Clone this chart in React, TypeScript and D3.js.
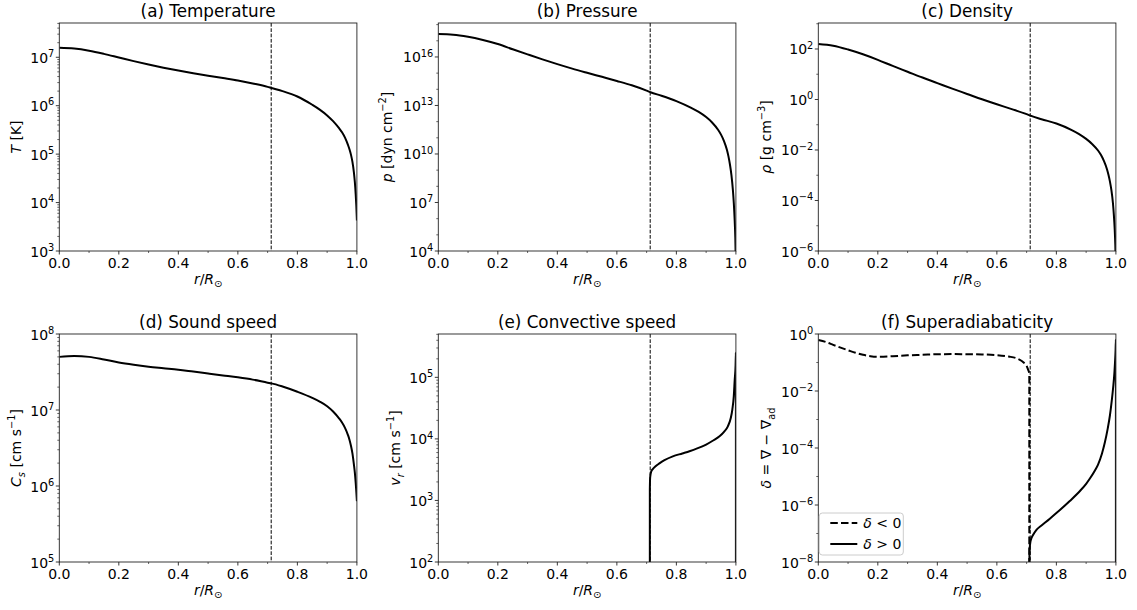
import React from "react";
import * as d3 from "d3";

const FONT = "'DejaVu Sans', sans-serif";

// ---------------- data ----------------
const radius = [0, 0.05, 0.1, 0.15, 0.2, 0.25, 0.3, 0.35, 0.4, 0.45, 0.5, 0.55, 0.6, 0.65, 0.7, 0.713, 0.75, 0.8, 0.85, 0.875, 0.9, 0.92, 0.94, 0.95, 0.96, 0.97, 0.975, 0.98, 0.985, 0.99, 0.993, 0.996, 0.998, 1.0];
const temperature = [1.574e7, 1.514e7, 1.365e7, 1.175e7, 9.89e6, 8.32e6, 7.08e6, 6.10e6, 5.31e6, 4.68e6, 4.17e6, 3.72e6, 3.31e6, 2.88e6, 2.45e6, 2.32e6, 2.0e6, 1.55e6, 1.047e6, 8.32e5, 6.31e5, 4.79e5, 3.43e5, 2.82e5, 2.19e5, 1.55e5, 1.26e5, 9.77e4, 6.92e4, 4.17e4, 2.69e4, 1.48e4, 8.7e3, 4.27e3];
const pressure = [2.6e17, 2.4e17, 1.78e17, 1.12e17, 6.3e16, 3.0e16, 1.45e16, 7.1e15, 3.6e15, 1.9e15, 1.05e15, 5.9e14, 3.3e14, 1.78e14, 8.3e13, 6.6e13, 4.0e13, 1.86e13, 7.08e12, 3.98e12, 1.91e12, 8.9e11, 3.16e11, 1.58e11, 6.3e10, 1.78e10, 7.1e9, 2.24e9, 5.0e8, 5.6e7, 8.9e6, 7.1e5, 7.1e4, 1.0e3];
const density = [158, 135, 95.5, 61.7, 37.2, 21.4, 12.6, 7.4, 4.47, 2.69, 1.66, 1.02, 0.646, 0.417, 0.263, 0.229, 0.166, 0.112, 0.0631, 0.0437, 0.0275, 0.0174, 9.55e-3, 6.31e-3, 3.63e-3, 1.74e-3, 1.05e-3, 5.62e-4, 2.51e-4, 7.94e-5, 2.82e-5, 7.08e-6, 1.78e-6, 1.58e-7];
const soundSpeed = [5.0e7, 5.13e7, 5.0e7, 4.62e7, 4.22e7, 3.94e7, 3.72e7, 3.55e7, 3.39e7, 3.2e7, 3.02e7, 2.85e7, 2.69e7, 2.51e7, 2.29e7, 2.24e7, 2.04e7, 1.74e7, 1.445e7, 1.29e7, 1.12e7, 9.55e6, 7.76e6, 6.84e6, 5.82e6, 4.68e6, 4.07e6, 3.39e6, 2.69e6, 1.91e6, 1.51e6, 1.10e6, 8.5e5, 6.3e5];

const radiusConv = [0.7108, 0.712, 0.716, 0.72, 0.73, 0.743, 0.76, 0.788, 0.82, 0.844, 0.87, 0.9, 0.925, 0.945, 0.96, 0.973, 0.983, 0.988, 0.993, 0.996, 0.999, 1.0];
const convSpeed = [1.5e3, 2.4e3, 3.0e3, 3.2e3, 3.6e3, 4.0e3, 4.5e3, 5.2e3, 5.8e3, 6.3e3, 7.0e3, 8.1e3, 9.5e3, 1.1e4, 1.3e4, 1.6e4, 2.2e4, 3.0e4, 5.0e4, 9.1e4, 1.6e5, 2.5e5];

const radiusNeg = [0, 0.025, 0.05, 0.075, 0.1, 0.125, 0.15, 0.175, 0.2, 0.25, 0.3, 0.35, 0.4, 0.45, 0.5, 0.55, 0.6, 0.64, 0.67, 0.69, 0.7, 0.705, 0.709];
const deltaNeg = [0.62, 0.525, 0.417, 0.331, 0.269, 0.219, 0.186, 0.166, 0.158, 0.166, 0.178, 0.186, 0.195, 0.197, 0.195, 0.191, 0.182, 0.162, 0.135, 0.1, 0.076, 0.056, 0.042];
const radiusPos = [0.7095, 0.71, 0.712, 0.715, 0.72, 0.733, 0.75, 0.778, 0.8, 0.845, 0.88, 0.9, 0.912, 0.93, 0.94, 0.953, 0.963, 0.972, 0.98, 0.986, 0.991, 0.995, 0.997, 0.999, 1.0];
const deltaPos = [1.5e-8, 2.5e-8, 4.5e-8, 6.3e-8, 8.3e-8, 1.35e-7, 1.9e-7, 3.3e-7, 5.2e-7, 1.38e-6, 3.16e-6, 5.5e-6, 8.3e-6, 1.66e-5, 2.63e-5, 6.3e-5, 1.58e-4, 4.5e-4, 1.41e-3, 4.5e-3, 0.0141, 0.0447, 0.1, 0.28, 0.63];

const baseConvZone = 0.712;
const xTicks = [0, 0.2, 0.4, 0.6, 0.8, 1.0];
const xTickLabels = ["0.0", "0.2", "0.4", "0.6", "0.8", "1.0"];
const xMinorTicks = [0.1, 0.3, 0.5, 0.7, 0.9];
const titles = ["(a) Temperature", "(b) Pressure", "(c) Density", "(d) Sound speed", "(e) Convective speed", "(f) Superadiabaticity"];
const legendLabels = ["<", ">"];

// ---------------- layout ----------------
const W = 1137;
const H = 610;
const colLeft = [59.3, 438.3, 818.3];
const axW = 297.6;
const rowTop = [23, 334];
const axH = 228;
const TICK_FS = 14;
const TITLE_FS = 16.8;

type Seg = { t: string; it?: boolean; sup?: boolean; sub?: boolean };

function MathText(props: { segs: Seg[]; x?: number; y?: number; anchor?: string; size: number; transform?: string }) {
  const { segs, x, y, anchor, size, transform } = props;
  let prev = 0;
  return (
    <text x={x} y={y} transform={transform} textAnchor={anchor || "start"} fontSize={size} fontFamily={FONT} fill="#000" style={{ whiteSpace: "pre" }}>
      {segs.map((s, i) => {
        const shift = s.sup ? -0.42 * size : s.sub ? 0.24 * size : 0;
        const dy = shift - prev;
        prev = shift;
        return (
          <tspan key={i} dy={dy} fontStyle={s.it ? "italic" : "normal"} fontSize={s.sup || s.sub ? size * 0.7 : size}>
            {s.t}
          </tspan>
        );
      })}
    </text>
  );
}

type Series = { x: number[]; y: number[]; dash?: string; dropStart?: boolean; dropEnd?: boolean };

type PanelDef = {
  title: string;
  yDomain: [number, number];
  majors: number[];
  minorMode: "subs" | "decades";
  ylabel: Seg[];
  ylabelOffset: number;
  series: Series[];
  legend?: boolean;
};

const sup = (e: number): Seg[] => [{ t: "10" }, { t: e < 0 ? "\u2212" + Math.abs(e) : String(e), sup: true }];

const panels: PanelDef[] = [
  {
    title: titles[0],
    yDomain: [1e3, 5.1e7],
    majors: [3, 4, 5, 6, 7],
    minorMode: "subs",
    ylabel: [{ t: "T", it: true }, { t: " [K]" }],
    ylabelOffset: 38,
    series: [{ x: radius, y: temperature }],
  },
  {
    title: titles[1],
    yDomain: [1e4, 1.26e18],
    majors: [4, 7, 10, 13, 16],
    minorMode: "decades",
    ylabel: [{ t: "p", it: true }, { t: " [dyn cm" }, { t: "\u22122", sup: true }, { t: "]" }],
    ylabelOffset: 46,
    series: [{ x: radius, y: pressure }],
  },
  {
    title: titles[2],
    yDomain: [1e-6, 1.07e3],
    majors: [-6, -4, -2, 0, 2],
    minorMode: "decades",
    ylabel: [{ t: "\u03c1", it: true }, { t: " [g cm" }, { t: "\u22123", sup: true }, { t: "]" }],
    ylabelOffset: 47,
    series: [{ x: radius, y: density }],
  },
  {
    title: titles[3],
    yDomain: [1e5, 1e8],
    majors: [5, 6, 7, 8],
    minorMode: "subs",
    ylabel: [{ t: "C", it: true }, { t: "s", it: true, sub: true }, { t: " [cm s" }, { t: "\u22121", sup: true }, { t: "]" }],
    ylabelOffset: 38,
    series: [{ x: radius, y: soundSpeed }],
  },
  {
    title: titles[4],
    yDomain: [1e2, 5.06e5],
    majors: [2, 3, 4, 5],
    minorMode: "subs",
    ylabel: [{ t: "v", it: true }, { t: "r", it: true, sub: true }, { t: " [cm s" }, { t: "\u22121", sup: true }, { t: "]" }],
    ylabelOffset: 38,
    series: [{ x: radiusConv, y: convSpeed, dropStart: true, dropEnd: true }],
  },
  {
    title: titles[5],
    yDomain: [1e-8, 1],
    majors: [-8, -6, -4, -2, 0],
    minorMode: "decades",
    ylabel: [{ t: "\u03b4", it: true }, { t: " = \u2207 \u2212 \u2207" }, { t: "ad", sub: true }],
    ylabelOffset: 47,
    series: [
      { x: radiusNeg, y: deltaNeg, dash: "7.5 3.2", dropEnd: true },
      { x: radiusPos, y: deltaPos, dropStart: true, dropEnd: true },
    ],
    legend: true,
  },
];

function Panel({ p, idx }: { p: PanelDef; idx: number }) {
  const col = idx % 3;
  const row = Math.floor(idx / 3);
  const L = colLeft[col];
  const T = rowTop[row];
  const B = T + axH;
  const R = L + axW;
  const x = d3.scaleLinear().domain([0, 1]).range([L, R]);
  const y = d3.scaleLog().domain(p.yDomain).range([B, T]);
  const low = p.yDomain[0] / 1000;

  const minors: number[] = [];
  const e0 = Math.floor(Math.log10(p.yDomain[0]));
  const e1 = Math.ceil(Math.log10(p.yDomain[1]));
  for (let e = e0; e <= e1; e++) {
    if (p.minorMode === "subs") {
      for (let k = 2; k <= 9; k++) {
        const v = k * Math.pow(10, e);
        if (v > p.yDomain[0] && v < p.yDomain[1]) minors.push(v);
      }
    } else if (!p.majors.includes(e)) {
      const v = Math.pow(10, e);
      if (v > p.yDomain[0] && v < p.yDomain[1]) minors.push(v);
    }
  }

  const line = d3
    .line<[number, number]>()
    .x((d) => x(d[0]))
    .y((d) => y(d[1]))
    .curve(d3.curveMonotoneX);

  const clipId = `clip-${idx}`;
  const stroke = "#222";

  return (
    <g>
      <defs>
        <clipPath id={clipId}>
          <rect x={L} y={T} width={axW} height={axH} />
        </clipPath>
      </defs>
      <g clipPath={`url(#${clipId})`}>
        <line x1={x(baseConvZone)} x2={x(baseConvZone)} y1={T} y2={B} stroke="#000" strokeWidth={1} strokeDasharray="3.7 1.6" />
        {p.series.map((s, i) => {
          const pts: [number, number][] = s.x.map((xv, j) => [xv, s.y[j]]);
          if (s.dropStart) pts.unshift([s.x[0], low]);
          if (s.dropEnd) pts.push([s.x[s.x.length - 1], low]);
          return <path key={i} d={line(pts) || ""} fill="none" stroke="#000" strokeWidth={2} strokeDasharray={s.dash} strokeLinejoin="round" />;
        })}
      </g>
      <rect x={L} y={T} width={axW} height={axH} fill="none" stroke={stroke} strokeWidth={0.9} />
      {/* x ticks */}
      {xTicks.map((t, i) => (
        <g key={"xt" + i}>
          <line x1={x(t)} x2={x(t)} y1={B} y2={B + 3.5} stroke={stroke} strokeWidth={0.9} />
          <text x={x(t)} y={B + 17} textAnchor="middle" fontSize={TICK_FS} fontFamily={FONT}>
            {xTickLabels[i]}
          </text>
        </g>
      ))}
      {xMinorTicks.map((t, i) => (
        <line key={"xm" + i} x1={x(t)} x2={x(t)} y1={B} y2={B + 2} stroke={stroke} strokeWidth={0.7} />
      ))}
      {/* y ticks */}
      {p.majors.map((e, i) => {
        const v = Math.pow(10, e);
        return (
          <g key={"yt" + i}>
            <line x1={L - 3.5} x2={L} y1={y(v)} y2={y(v)} stroke={stroke} strokeWidth={0.9} />
            <MathText segs={sup(e)} x={L - 5} y={y(v) + 5.5} anchor="end" size={TICK_FS} />
          </g>
        );
      })}
      {minors.map((v, i) => (
        <line key={"ym" + i} x1={L - 2} x2={L} y1={y(v)} y2={y(v)} stroke={stroke} strokeWidth={0.7} />
      ))}
      {/* labels */}
      <text x={(L + R) / 2} y={T - 6} textAnchor="middle" fontSize={TITLE_FS} fontFamily={FONT}>
        {p.title}
      </text>
      <MathText
        segs={[{ t: "r", it: true }, { t: "/" }, { t: "R", it: true }, { t: "\u2299", sub: true }]}
        x={(L + R) / 2}
        y={B + 33}
        anchor="middle"
        size={TICK_FS}
      />
      <MathText segs={p.ylabel} anchor="middle" size={TICK_FS} transform={`translate(${L - p.ylabelOffset},${(T + B) / 2}) rotate(-90)`} />
      {p.legend && (
        <g>
          <rect x={L + 1} y={B - 49} width={84} height={42} rx={3} fill="#fff" fillOpacity={0.8} stroke="#ccc" strokeWidth={1} />
          {legendLabels.map((lab, i) => {
            const cy = B - 39 + i * 21;
            return (
              <g key={"lg" + i}>
                <line x1={L + 12} x2={L + 39} y1={cy} y2={cy} stroke="#000" strokeWidth={2} strokeDasharray={i === 0 ? "7.5 3.2" : undefined} />
                <MathText segs={[{ t: "\u03b4", it: true }, { t: " " + lab + " 0" }]} x={L + 45} y={cy + 5} size={TICK_FS} />
              </g>
            );
          })}
        </g>
      )}
    </g>
  );
}

export default function App() {
  return (
    <svg width={W} height={H} viewBox={`0 0 ${W} ${H}`} style={{ position: "absolute", left: 0, top: 0, background: "#fff" }}>
      <rect x={0} y={0} width={W} height={H} fill="#fff" />
      {panels.map((p, i) => (
        <Panel key={i} p={p} idx={i} />
      ))}
    </svg>
  );
}
